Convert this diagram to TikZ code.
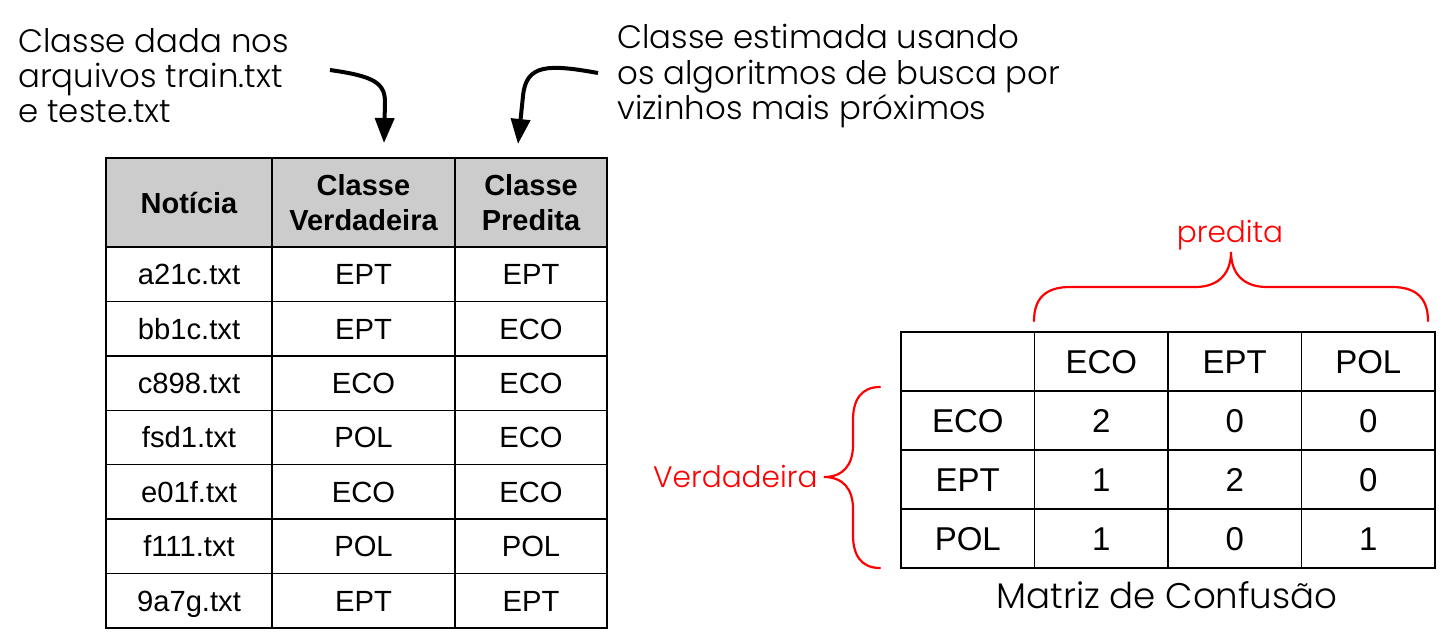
\documentclass[tikz,border=0pt]{standalone}
\usepackage{fontspec}
\setmainfont{Liberation Sans}
\newfontfamily\annfont{Poppins}[UprightFont={* Light}]
\usetikzlibrary{arrows.meta}
\definecolor{hdrgray}{HTML}{CCCCCC}
\definecolor{bracered}{HTML}{FF0000}
\begin{document}
\begin{tikzpicture}[x=0.5pt,y=-0.5pt,
  tcell/.style={draw=black,line width=0.7pt,inner sep=0pt,minimum width=#1,minimum height=27.2pt,
    text height=10.4pt,text depth=0pt,font=\fontsize{14.6}{17}\selectfont},
  thead/.style={tcell=#1,fill=hdrgray,minimum height=44.5pt,align=center,text height=,text depth=,
    font=\fontsize{14.5}{17.5}\selectfont\bfseries},
  mcell/.style={draw=black,line width=0.7pt,inner sep=0pt,minimum width=66.75pt,minimum height=29.5pt,
    text height=11.8pt,text depth=0pt,font=\fontsize{16.5}{20}\selectfont},
  ann/.style={anchor=base west,inner sep=0pt,font=\annfont\fontsize{16.2}{18}\selectfont},
  redlab/.style={inner sep=0pt,text=bracered,font=\annfont\fontsize{14.8}{17}\selectfont},
  bigarrow/.style={line width=2pt,-{Triangle[length=12.5pt,width=9.5pt]}},
  brace/.style={draw=bracered,line width=1.1pt,line cap=round}]
\useasboundingbox (0,0) rectangle (1443,638);

% ---- left table ----
\node[thead=83pt]   (h1) at (189,202.5)   {Notícia};
\node[thead=91.5pt] (h2) at (363.5,202.5) {Classe\\Verdadeira};
\node[thead=76pt]   (h3) at (531,202.5)   {Classe\\Predita};
\foreach \f/\v/\p [count=\i] in {a21c.txt/EPT/EPT, bb1c.txt/EPT/ECO, c898.txt/ECO/ECO,
    fsd1.txt/POL/ECO, e01f.txt/ECO/ECO, f111.txt/POL/POL, 9a7g.txt/EPT/EPT}{
  \pgfmathsetmacro{\yy}{247+54.43*(\i-0.5)}
  \node[tcell=83pt]   (f\i) at (189,\yy)   {\f};
  \node[tcell=91.5pt] (v\i) at (363.5,\yy) {\v};
  \node[tcell=76pt]   (p\i) at (531,\yy)   {\p};
}

% ---- annotations ----
\node[ann] (l1) at (18,52)  {Classe dada nos};
\node[ann] (l2) at (18,87)  {arquivos train.txt};
\node[ann] (l3) at (18,122) {e teste.txt};
\node[ann] (r1) at (617,48)  {Classe estimada usando};
\node[ann] (r2) at (617,84)  {os algoritmos de busca por};
\node[ann] (r3) at (617,119) {vizinhos mais próximos};

\coordinate (las) at (330,70);
\coordinate (lat) at (384,143);
\coordinate (ras) at (598,73);
\coordinate (rat) at (518,144);
\draw[bigarrow] (las) .. controls (372,76) and (385,82) .. (385,102) -- (lat);
\draw[bigarrow] (ras) .. controls (548,64) and (526,64) .. (523,96) -- (rat);

% ---- confusion matrix ----
\foreach \a/\b/\c/\d [count=\i] in {{}/ECO/EPT/POL, ECO/2/0/0, EPT/1/2/0, POL/1/0/1}{
  \pgfmathsetmacro{\yy}{332+59*(\i-0.5)}
  \node[mcell] (m\i a) at (967.75,\yy)  {\a};
  \node[mcell] (m\i b) at (1101.25,\yy) {\b};
  \node[mcell] (m\i c) at (1234.75,\yy) {\c};
  \node[mcell] (m\i d) at (1368.25,\yy) {\d};
}
\node[anchor=base,inner sep=0pt,font=\annfont\fontsize{17.8}{20}\selectfont] (title) at (1167,608) {Matriz de Confusão};

% ---- braces ----
\draw[brace] (1034,321) .. controls (1034,298) and (1046,287) .. (1070,287) -- (1195,287)
   .. controls (1220,287) and (1231,272) .. (1231,252)
   .. controls (1231,272) and (1242,287) .. (1267,287) -- (1392,287)
   .. controls (1416,287) and (1428,298) .. (1428,321);
\draw[brace] (880,387) .. controls (861,387) and (853,400) .. (853,420) -- (853,445)
   .. controls (853,465) and (843,477) .. (824,477)
   .. controls (843,477) and (853,489) .. (853,509) -- (853,535)
   .. controls (853,555) and (861,568) .. (880,568);
\node[redlab,anchor=base] (pred) at (1230,242) {predita};
\node[redlab,anchor=base east] (verd) at (818,487) {Verdadeira};
\end{tikzpicture}
\end{document}
